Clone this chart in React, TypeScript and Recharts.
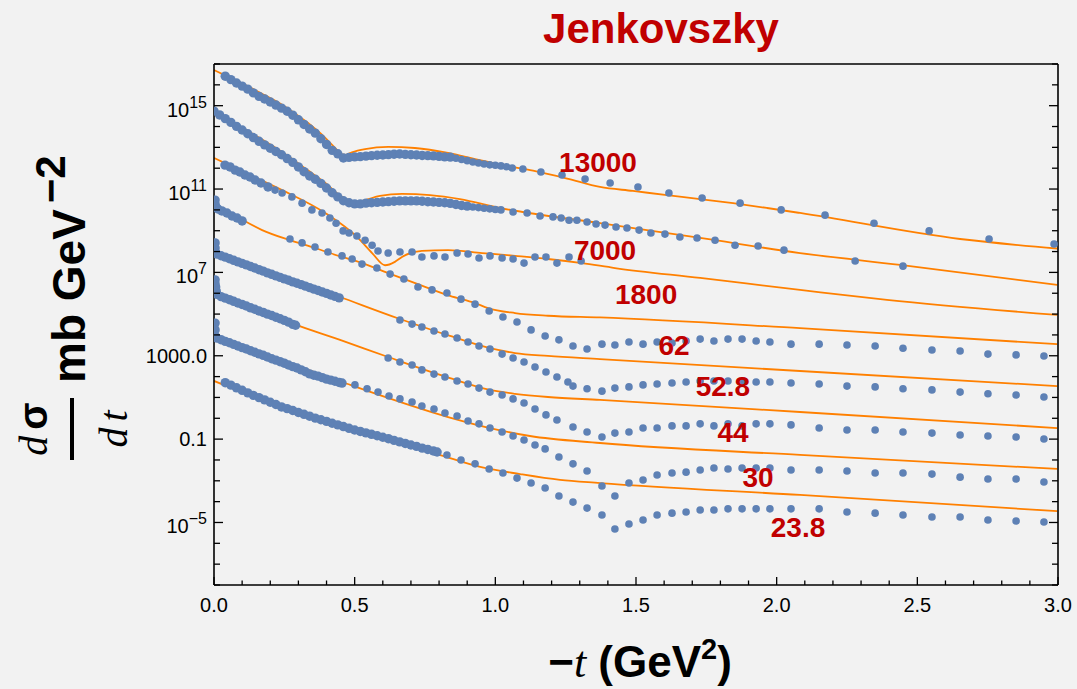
import React from 'react';
import { ComposedChart, Line, Scatter, XAxis, YAxis, ReferenceDot } from 'recharts';

// ---------- palette & fonts ----------
const BG = '#f2f2f2';
const BLUE = '#5e81b5';
const ORANGE = '#ff8000';
const RED = '#c00000';
const SANS = '"Liberation Sans", Arial, Helvetica, sans-serif';
const SERIF = '"Liberation Serif", "Times New Roman", serif';

// ---------- axes ----------
const xTicks = [0, 0.1, 0.2, 0.3, 0.4, 0.5, 0.6, 0.7, 0.8, 0.9, 1, 1.1, 1.2, 1.3, 1.4, 1.5, 1.6, 1.7, 1.8, 1.9, 2, 2.1, 2.2, 2.3, 2.4, 2.5, 2.6, 2.7, 2.8, 2.9, 3];
const xMajorTicks = [0, 0.5, 1, 1.5, 2, 2.5, 3];
const yTicks = [1e-8, 1e-7, 1e-6, 1e-5, 1e-4, 1e-3, 1e-2, 1e-1, 1, 1e1, 1e2, 1e3, 1e4, 1e5, 1e6, 1e7, 1e8, 1e9, 1e10, 1e11, 1e12, 1e13, 1e14, 1e15, 1e16, 1e17];
const yLabeledExponents = [15, 11, 7, 3, -1, -5];

// ---------- measured dσ/dt (scaled per energy), [−t, value] ----------
// finely binned low-|t| sets
const low13000: [number, number][] = [
  [0.04, 2.6e16], [0.06, 1.78e16], [0.08, 1.23e16], [0.10, 8.7e15], [0.12, 6.2e15], [0.14, 4.1e15], [0.16, 2.8e15],
  [0.18, 2.1e15], [0.20, 1.51e15], [0.22, 1.07e15], [0.24, 7.6e14], [0.26, 5.4e14], [0.28, 3.5e14], [0.30, 2.1e14],
  [0.32, 1.26e14], [0.34, 7.6e13], [0.36, 4.8e13], [0.38, 2.6e13], [0.40, 1.38e13], [0.42, 7.2e12], [0.44, 4.9e12],
  [0.46, 3.1e12], [0.48, 3.3e12], [0.50, 3.5e12], [0.52, 3.6e12], [0.54, 3.8e12], [0.56, 4.0e12], [0.58, 4.2e12],
  [0.60, 4.3e12], [0.62, 4.5e12], [0.64, 4.7e12], [0.66, 4.8e12], [0.68, 4.6e12], [0.70, 4.4e12], [0.72, 4.3e12],
  [0.74, 4.1e12], [0.76, 4.0e12], [0.78, 3.9e12], [0.80, 3.7e12], [0.82, 3.5e12], [0.84, 3.4e12],
];
const low7000: [number, number][] = [
  [0.00, 5.5e14], [0.02, 3.6e14], [0.04, 2.4e14], [0.06, 1.58e14], [0.08, 1.02e14], [0.10, 6.8e13], [0.12, 4.5e13],
  [0.14, 2.95e13], [0.16, 1.95e13], [0.18, 1.32e13], [0.20, 9.1e12], [0.22, 6.3e12], [0.24, 4.4e12], [0.26, 2.9e12],
  [0.28, 1.9e12], [0.30, 1.15e12], [0.32, 6.8e11], [0.34, 4.2e11], [0.36, 2.95e11], [0.38, 1.86e11], [0.40, 1.12e11],
  [0.42, 6.6e10], [0.44, 4.2e10], [0.46, 2.75e10], [0.48, 2.2e10], [0.50, 1.95e10], [0.52, 1.95e10], [0.54, 2.1e10],
  [0.56, 2.2e10], [0.58, 2.3e10], [0.60, 2.4e10], [0.62, 2.5e10], [0.64, 2.6e10], [0.66, 2.7e10], [0.68, 2.7e10],
  [0.70, 2.7e10], [0.72, 2.7e10], [0.74, 2.6e10], [0.76, 2.45e10], [0.78, 2.4e10], [0.80, 2.3e10], [0.82, 2.2e10],
  [0.84, 2.05e10], [0.86, 1.82e10], [0.88, 1.62e10], [0.90, 1.51e10],
];
const low1800: [number, number][] = [
  [0.039, 1.41e12], [0.057, 1.15e12], [0.075, 8.1e11], [0.092, 6.6e11], [0.11, 4.7e11], [0.128, 3.8e11], [0.146, 2.7e11],
  [0.167, 1.95e11], [0.192, 1.26e11],
];
const low62: [number, number][] = [
  [0.004, 2.95e10], [0.004, 1.9e10], [0.007, 1.38e10], [0.014, 1.1e10], [0.028, 8.9e9], [0.046, 7.1e9], [0.064, 5.1e9],
  [0.082, 4.1e9], [0.1, 2.95e9],
];
const low52_8: [number, number][] = [
  [0.004, 2.6e8], [0.004, 1.48e8], [0.007, 8.5e7], [0.01, 7.6e7], [0.025, 6.3e7], [0.04, 5.4e7], [0.055, 4.5e7],
  [0.07, 3.8e7], [0.085, 3.2e7], [0.1, 2.7e7], [0.115, 2.3e7], [0.13, 1.91e7], [0.145, 1.62e7], [0.16, 1.35e7],
  [0.175, 1.15e7], [0.19, 9.5e6], [0.205, 8.1e6], [0.22, 6.8e6], [0.235, 5.8e6], [0.25, 4.9e6], [0.265, 4.2e6],
  [0.28, 3.5e6], [0.295, 3.0e6], [0.31, 2.6e6], [0.325, 2.2e6], [0.34, 1.86e6], [0.355, 1.58e6], [0.37, 1.35e6],
  [0.385, 1.15e6], [0.4, 9.8e5], [0.415, 8.3e5], [0.43, 7.1e5], [0.445, 6.0e5],
];
const low44: [number, number][] = [
  [0.004, 4.4e6], [0.004, 2.8e6], [0.006, 2.0e6], [0.008, 1.26e6], [0.01, 8.9e5], [0.025, 6.9e5], [0.04, 5.8e5],
  [0.055, 4.9e5], [0.07, 4.1e5], [0.085, 3.4e5], [0.1, 2.9e5], [0.115, 2.45e5], [0.13, 2.0e5], [0.145, 1.7e5],
  [0.16, 1.41e5], [0.175, 1.2e5], [0.19, 1.0e5], [0.205, 8.5e4], [0.22, 7.1e4], [0.235, 6.0e4], [0.25, 5.0e4],
  [0.265, 4.1e4], [0.28, 3.2e4], [0.29, 2.9e4],
];
const low30: [number, number][] = [
  [0.004, 3.7e4], [0.004, 1.74e4], [0.007, 7.9e3], [0.01, 7.1e3], [0.025, 5.9e3], [0.04, 4.9e3], [0.055, 4.2e3],
  [0.07, 3.5e3], [0.085, 2.95e3], [0.1, 2.45e3], [0.115, 2.1e3], [0.13, 1.74e3], [0.145, 1.48e3], [0.16, 1.23e3],
  [0.175, 1.05e3], [0.19, 8.7e2], [0.205, 7.2e2], [0.22, 6.2e2], [0.235, 5.2e2], [0.25, 4.4e2], [0.265, 3.6e2],
  [0.28, 3.0e2], [0.295, 2.6e2], [0.31, 2.1e2], [0.325, 1.7e2], [0.34, 1.35e2], [0.355, 1.17e2], [0.37, 1.05e2],
  [0.385, 89], [0.4, 76], [0.415, 68], [0.43, 60], [0.445, 52], [0.455, 49],
];
const low23_8: [number, number][] = [
  [0.04, 51], [0.06, 39], [0.08, 29], [0.1, 22], [0.12, 16.6], [0.14, 12.6], [0.16, 9.8], [0.18, 7.6], [0.2, 5.9],
  [0.22, 4.6], [0.24, 3.5], [0.26, 2.9], [0.28, 2.35], [0.3, 1.9], [0.32, 1.55], [0.34, 1.26], [0.36, 1.02], [0.38, 0.85],
  [0.4, 0.71], [0.42, 0.575], [0.44, 0.48], [0.46, 0.4], [0.48, 0.33], [0.5, 0.275], [0.52, 0.234], [0.54, 0.2],
  [0.56, 0.17], [0.58, 0.145], [0.6, 0.123], [0.62, 0.105], [0.64, 0.087], [0.66, 0.074], [0.68, 0.062], [0.7, 0.052],
  [0.72, 0.045], [0.74, 0.037], [0.76, 0.032], [0.78, 0.027], [0.793, 0.024],
];

// coarser sets reaching the dip and beyond
const high13000: [number, number][] = [
  [0.86, 3.0e12], [0.88, 2.6e12], [0.90, 2.3e12], [0.92, 2.0e12], [0.94, 1.78e12], [0.96, 1.58e12], [0.98, 1.45e12],
  [1.00, 1.38e12], [1.02, 1.29e12], [1.04, 1.17e12], [1.06, 1.02e12], [1.098, 9.1e11], [1.162, 6.6e11], [1.237, 4.7e11],
  [1.319, 3.0e11], [1.408, 1.95e11], [1.507, 1.26e11], [1.617, 6.5e10], [1.735, 3.7e10], [1.87, 2.1e10], [2.016, 1.0e10],
  [2.172, 5.6e9], [2.346, 2.3e9], [2.542, 9.8e8], [2.755, 4.0e8], [2.986, 2.3e8],
];
const high7000: [number, number][] = [
  [0.92, 1.38e10], [0.94, 1.29e10], [0.96, 1.2e10], [0.98, 1.12e10], [1.00, 1.05e10], [1.02, 1.0e10], [1.063, 7.9e9],
  [1.113, 7.1e9], [1.159, 5.1e9], [1.205, 4.6e9], [1.234, 4.1e9], [1.262, 3.2e9], [1.29, 3.2e9], [1.326, 2.6e9],
  [1.358, 2.1e9], [1.39, 1.86e9], [1.429, 1.51e9], [1.468, 1.35e9], [1.511, 1.07e9], [1.553, 7.8e8], [1.603, 6.9e8],
  [1.656, 5.0e8], [1.717, 4.5e8], [1.781, 3.5e8], [1.852, 2.0e8], [1.934, 1.86e8], [2.026, 1.17e8], [2.279, 3.5e7],
  [2.449, 2.0e7],
];
const high1800: [number, number][] = [
  [0.217, 8.9e10], [0.242, 6.5e10], [0.277, 4.2e10], [0.313, 2.1e10], [0.348, 1.0e10], [0.384, 7.1e9], [0.412, 4.1e9],
  [0.434, 2.3e9], [0.459, 9.8e8], [0.48, 7.8e8], [0.508, 5.6e8], [0.537, 3.5e8], [0.562, 2.0e8], [0.583, 1.07e8],
  [0.619, 8.5e7], [0.661, 9.5e7], [0.704, 9.5e7], [0.739, 5.5e7], [0.782, 6.2e7], [0.821, 5.5e7], [0.864, 8.5e7],
  [0.903, 7.6e7], [0.942, 4.9e7], [0.981, 6.2e7], [1.024, 4.9e7], [1.063, 4.4e7], [1.102, 2.8e7], [1.141, 5.5e7],
  [1.18, 5.5e7], [1.219, 2.8e7], [1.262, 5.5e7], [1.305, 3.5e7],
];
const high62: [number, number][] = [
  [0.27, 4.0e8], [0.313, 2.6e8], [0.359, 1.66e8], [0.405, 9.5e7], [0.455, 6.2e7], [0.491, 4.4e7], [0.526, 2.5e7],
  [0.579, 1.62e7], [0.626, 8.3e6], [0.675, 4.8e6], [0.725, 2.0e6], [0.775, 1.45e6], [0.828, 1.02e6], [0.878, 5.2e5],
  [0.928, 3.0e5], [0.978, 1.41e5], [1.027, 7.2e4], [1.077, 4.2e4], [1.127, 1.74e4], [1.177, 8.9e3], [1.226, 5.8e3],
  [1.276, 2.95e3], [1.326, 2.1e3], [1.379, 3.6e3], [1.425, 3.3e3], [1.475, 4.6e3], [1.525, 3.6e3], [1.575, 4.6e3],
  [1.628, 4.1e3], [1.678, 5.1e3], [1.728, 6.3e3], [1.777, 5.1e3], [1.827, 6.3e3], [1.877, 6.3e3], [1.927, 5.1e3],
  [1.976, 4.6e3], [2.051, 3.6e3], [2.151, 3.6e3], [2.25, 3.3e3], [2.35, 2.95e3], [2.449, 2.3e3], [2.552, 1.9e3],
  [2.652, 1.7e3], [2.751, 1.2e3], [2.851, 1.1e3], [2.95, 9.8e2],
];
const high52_8: [number, number][] = [
  [0.661, 5.2e4], [0.704, 3.3e4], [0.739, 2.4e4], [0.782, 1.55e4], [0.821, 1.1e4], [0.864, 7.1e3], [0.903, 4.6e3],
  [0.942, 2.95e3], [0.981, 2.1e3], [1.024, 1.2e3], [1.063, 7.8e2], [1.102, 5.0e2], [1.141, 2.9e2], [1.18, 1.66e2],
  [1.219, 95], [1.258, 55], [1.276, 35], [1.326, 26], [1.379, 20], [1.425, 28], [1.475, 32], [1.525, 40], [1.575, 44],
  [1.628, 49], [1.678, 55], [1.728, 62], [1.777, 62], [1.827, 62], [1.877, 55], [1.927, 55], [1.976, 55], [2.051, 49],
  [2.151, 44], [2.25, 35], [2.35, 32], [2.449, 26], [2.552, 23], [2.652, 18], [2.751, 15], [2.851, 13], [2.95, 10.5],
];
const high44: [number, number][] = [
  [0.619, 7.8e2], [0.661, 5.0e2], [0.704, 3.6e2], [0.739, 2.1e2], [0.782, 1.32e2], [0.821, 95], [0.864, 62], [0.903, 44],
  [0.942, 28], [0.981, 18], [1.024, 13], [1.063, 8.5], [1.102, 5.4], [1.141, 2.8], [1.18, 1.45], [1.219, 0.83],
  [1.276, 0.38], [1.326, 0.22], [1.379, 0.126], [1.425, 0.195], [1.475, 0.22], [1.525, 0.34], [1.575, 0.34],
  [1.628, 0.43], [1.678, 0.43], [1.728, 0.54], [1.777, 0.43], [1.827, 0.54], [1.877, 0.43], [1.927, 0.54], [1.976, 0.54],
  [2.051, 0.48], [2.151, 0.34], [2.25, 0.275], [2.35, 0.275], [2.449, 0.22], [2.552, 0.195], [2.652, 0.158],
  [2.751, 0.141], [2.851, 0.126], [2.95, 0.102],
];
const high30: [number, number][] = [
  [0.501, 40], [0.544, 26], [0.583, 18], [0.622, 11.7], [0.661, 8.5], [0.704, 6.0], [0.739, 3.9], [0.782, 2.8],
  [0.821, 1.78], [0.864, 1.29], [0.903, 0.74], [0.942, 0.54], [0.981, 0.34], [1.024, 0.22], [1.063, 0.141], [1.102, 0.091],
  [1.141, 0.052], [1.177, 0.034], [1.226, 0.0138], [1.276, 6.5e-3], [1.326, 2.95e-3], [1.379, 5.6e-4], [1.425, 1.86e-4],
  [1.475, 7.8e-4], [1.525, 1.1e-3], [1.575, 1.9e-3], [1.628, 2.35e-3], [1.678, 2.6e-3], [1.728, 3.3e-3], [1.777, 4.1e-3],
  [1.827, 3.7e-3], [1.877, 4.1e-3], [1.927, 4.1e-3], [1.976, 4.1e-3], [2.051, 3.3e-3], [2.151, 3.3e-3], [2.25, 2.95e-3],
  [2.35, 2.35e-3], [2.449, 2.35e-3], [2.552, 2.1e-3], [2.652, 1.5e-3], [2.751, 1.23e-3], [2.851, 1.23e-3], [2.95, 8.7e-4],
];
const high23_8: [number, number][] = [
  [0.828, 0.0174], [0.878, 0.01], [0.928, 6.5e-3], [0.978, 3.7e-3], [1.027, 2.35e-3], [1.077, 1.35e-3], [1.127, 7.8e-4],
  [1.177, 4.5e-4], [1.226, 1.86e-4], [1.276, 9.5e-5], [1.326, 4.9e-5], [1.379, 2.3e-5], [1.425, 4.9e-6], [1.475, 8.5e-6],
  [1.525, 1.32e-5], [1.575, 2.3e-5], [1.628, 2.8e-5], [1.678, 3.2e-5], [1.728, 4.0e-5], [1.777, 4.0e-5], [1.827, 4.5e-5],
  [1.877, 4.5e-5], [1.927, 4.5e-5], [1.976, 4.5e-5], [2.051, 4.5e-5], [2.151, 4.5e-5], [2.25, 3.2e-5], [2.35, 2.8e-5],
  [2.449, 2.3e-5], [2.552, 1.82e-5], [2.652, 1.82e-5], [2.751, 1.32e-5], [2.851, 1.17e-5], [2.95, 1.05e-5],
];

// ---------- model curves, [−t, value] ----------
const model13000: [number, number][] = [
  [0, 5.1e16], [0.06, 2.1e16], [0.121, 8.5e15], [0.18, 3.2e15], [0.242, 1.1e15], [0.3, 3.2e14], [0.341, 1.26e14],
  [0.38, 4.5e13], [0.405, 2.1e13], [0.425, 1.12e13], [0.441, 6.6e12], [0.455, 4.6e12], [0.468, 4.4e12], [0.49, 5.8e12],
  [0.537, 8.3e12], [0.619, 1.05e13], [0.714, 9.3e12], [0.832, 5.4e12], [0.928, 2.75e12], [1.024, 1.41e12],
  [1.134, 7.6e11], [1.255, 3.2e11], [1.372, 1.26e11], [1.489, 8.1e10], [1.61, 5.1e10], [1.728, 3.3e10], [1.845, 2.1e10],
  [1.966, 1.23e10], [2.083, 7.1e9], [2.652, 4.0e8], [2.997, 1.4e8],
];
const model7000: [number, number][] = [
  [0, 5.6e14], [0.121, 6.0e13], [0.242, 6.0e12], [0.334, 7.9e11], [0.395, 2.0e11], [0.455, 4.2e10], [0.49, 2.6e10],
  [0.508, 2.4e10], [0.537, 2.95e10], [0.59, 4.7e10], [0.668, 5.8e10], [0.768, 5.1e10], [0.874, 3.3e10], [1.017, 1.23e10],
  [1.372, 2.3e9], [1.728, 4.5e8], [2.083, 8.5e7], [2.439, 2.3e7], [2.997, 2.5e6],
];
const model1800: [number, number][] = [
  [0, 3.1e12], [0.121, 5.2e11], [0.242, 8.9e10], [0.395, 7.1e9], [0.512, 4.5e8], [0.562, 8.5e7], [0.608, 2.2e7],
  [0.643, 3.2e7], [0.668, 5.5e7], [0.739, 1.07e8], [0.832, 1.17e8], [0.953, 8.5e7], [1.07, 6.2e7], [1.187, 4.4e7],
  [1.308, 2.8e7], [1.425, 1.62e7], [1.728, 5.4e6], [2.083, 1.45e6], [2.392, 4.8e5], [2.997, 9.1e4],
];
const model62: [number, number][] = [
  [0, 1.7e10], [0.103, 3.2e9], [0.171, 1.07e9], [0.27, 3.5e8], [0.359, 1.48e8], [0.455, 5.5e7], [0.526, 2.8e7],
  [0.619, 9.3e6], [0.732, 2.5e6], [0.839, 7.4e5], [0.928, 3.4e5], [0.974, 1.95e5], [1.07, 1.12e5], [1.187, 8.3e4],
  [1.372, 6.9e4], [2.083, 2.1e4], [2.997, 3.6e3],
];
const model52_8: [number, number][] = [
  [0, 1.07e8], [0.242, 6.8e6], [0.448, 6.6e5], [0.661, 5.8e4], [0.839, 8.9e3], [0.981, 2.3e3], [1.07, 1.35e3],
  [1.187, 9.8e2], [1.372, 6.9e2], [2.083, 1.86e2], [2.997, 35],
];
const model44: [number, number][] = [
  [0, 1.15e6], [0.284, 3.3e4], [0.448, 5.8e3], [0.619, 8.7e2], [0.839, 85], [0.981, 23], [1.07, 15], [1.187, 10.5],
  [1.372, 7.6], [2.083, 2.0], [2.997, 0.34],
];
const model30: [number, number][] = [
  [0, 1.1e4], [0.455, 55], [0.832, 1.15], [0.981, 0.34], [1.123, 0.141], [1.372, 0.065], [2.083, 0.0174], [2.997, 3.7e-3],
];
const model23_8: [number, number][] = [
  [0, 62], [0.121, 13.5], [0.242, 2.8], [0.359, 0.79], [0.476, 0.26], [0.597, 0.095], [0.714, 0.038], [0.793, 0.019],
  [0.946, 4.6e-3], [1.088, 2.1e-3], [1.23, 1.1e-3], [1.372, 7.8e-4], [2.083, 2.1e-4], [2.997, 3.5e-5],
];

// ---------- energy tags (√s in GeV) and where they sit ----------
const energyNames = ['13000', '7000', '1800', '62', '52.8', '44', '30', '23.8'];
const energyTagAt: [number, number][] = [
  [1.365, 2.0e12], [1.39, 1.17e8], [1.536, 9.1e5], [1.635, 3.3e3], [1.809, 35], [1.845, 0.22], [1.934, 1.5e-3], [2.076, 6.0e-6],
];
const lowSets = [low13000, low7000, low1800, low62, low52_8, low44, low30, low23_8];
const highSets = [high13000, high7000, high1800, high62, high52_8, high44, high30, high23_8];
const models = [model13000, model7000, model1800, model62, model52_8, model44, model30, model23_8];

const rows = (pairs: [number, number][]) => pairs.map(([t, v]) => ({ t, v }));

// ---------- frame ticks (inward, Mathematica style) ----------
const TICK_FONT = 20;

function expOf(v: number) {
  return Math.round(Math.log10(v));
}

function yLabel(exp: number, x: number, y: number) {
  const common = { x, textAnchor: 'end' as const, fontFamily: SANS, fontSize: TICK_FONT, fill: '#000' };
  if (exp === 3) return <text {...common} y={y + 7}>1000.0</text>;
  if (exp === -1) return <text {...common} y={y + 7}>0.1</text>;
  const sup = exp < 0 ? `\u2212${-exp}` : `${exp}`;
  return (
    <text {...common} y={y + 11}>
      <tspan>10</tspan>
      <tspan dy={-9} fontSize={16}>{sup}</tspan>
    </text>
  );
}

const LeftTick = (p: any) => {
  const exp = expOf(p.payload.value);
  const major = yLabeledExponents.includes(exp);
  return (
    <g>
      <line x1={p.x} x2={p.x + (major ? 9 : 6)} y1={p.y} y2={p.y} stroke="#000" strokeWidth={1.3} />
      {major && yLabel(exp, p.x - 7, p.y)}
    </g>
  );
};
const RightTick = (p: any) => {
  const major = yLabeledExponents.includes(expOf(p.payload.value));
  return <line x1={p.x} x2={p.x - (major ? 9 : 6)} y1={p.y} y2={p.y} stroke="#000" strokeWidth={1.3} />;
};
const isMajorX = (v: number) => xMajorTicks.some((m) => Math.abs(m - v) < 1e-6);
const BottomTick = (p: any) => {
  const major = isMajorX(p.payload.value);
  return (
    <g>
      <line x1={p.x} x2={p.x} y1={p.y} y2={p.y - (major ? 8 : 4.5)} stroke="#000" strokeWidth={1.3} />
      {major && (
        <text x={p.x} y={p.y + 27} textAnchor="middle" fontFamily={SANS} fontSize={TICK_FONT} fill="#000">
          {Number(p.payload.value).toFixed(1)}
        </text>
      )}
    </g>
  );
};
const TopTick = (p: any) => {
  const major = isMajorX(p.payload.value);
  return <line x1={p.x} x2={p.x} y1={p.y} y2={p.y + (major ? 8 : 4.5)} stroke="#000" strokeWidth={1.3} />;
};

const axisLine = { stroke: '#000', strokeWidth: 1.6 };

const FineDot = (p: any) => <circle cx={p.cx} cy={p.cy} r={4.7} fill={BLUE} />;
const CoarseDot = (p: any) => <circle cx={p.cx} cy={p.cy} r={3.8} fill={BLUE} />;

export default function App() {
  return (
    <div style={{ position: 'absolute', left: 0, top: 0, width: 1077, height: 689, background: BG, overflow: 'hidden' }}>
      <ComposedChart width={1077} height={689} margin={{ top: 63, right: 18, bottom: 64, left: 144 }}>
        <XAxis
          dataKey="t" type="number" domain={[0, 3]} ticks={xTicks} interval={0} height={40}
          tickSize={0} tickMargin={0} tickLine={false} axisLine={axisLine} tick={(p: any) => <BottomTick {...p} />}
          allowDataOverflow
        />
        <XAxis
          xAxisId="top" orientation="top" type="number" domain={[0, 3]} ticks={xTicks} interval={0} height={1}
          tickSize={0} tickMargin={0} tickLine={false} axisLine={axisLine} tick={(p: any) => <TopTick {...p} />}
          allowDataOverflow
        />
        <YAxis
          dataKey="v" scale="log" domain={[1e-8, 1e17]} ticks={yTicks} interval={0} width={70}
          tickSize={0} tickMargin={0} tickLine={false} axisLine={axisLine} tick={(p: any) => <LeftTick {...p} />}
          allowDataOverflow
        />
        <YAxis
          yAxisId="right" orientation="right" scale="log" domain={[1e-8, 1e17]} ticks={yTicks} interval={0} width={1}
          tickSize={0} tickMargin={0} tickLine={false} axisLine={axisLine} tick={(p: any) => <RightTick {...p} />}
          allowDataOverflow
        />

        {models.map((m, i) => (
          <Line
            key={`model-${energyNames[i]}`}
            data={rows(m)}
            dataKey="v"
            type="monotone"
            stroke={ORANGE}
            strokeWidth={1.8}
            dot={false}
            activeDot={false}
            isAnimationActive={false}
          />
        ))}
        {lowSets.map((d, i) => (
          <Scatter key={`low-${energyNames[i]}`} data={rows(d)} dataKey="v" shape={FineDot} isAnimationActive={false} />
        ))}
        {highSets.map((d, i) => (
          <Scatter key={`high-${energyNames[i]}`} data={rows(d)} dataKey="v" shape={CoarseDot} isAnimationActive={false} />
        ))}
        {energyNames.map((name, i) => (
          <ReferenceDot
            key={`tag-${name}`}
            x={energyTagAt[i][0]}
            y={energyTagAt[i][1]}
            r={0}
            ifOverflow="visible"
            shape={(p: any) => (
              <text x={p.cx} y={p.cy + 10} textAnchor="middle" fontFamily={SANS} fontWeight="bold" fontSize={28} fill={RED}>
                {name}
              </text>
            )}
          />
        ))}
      </ComposedChart>

      <svg width={1077} height={689} style={{ position: 'absolute', left: 0, top: 0, pointerEvents: 'none' }}>
        <text x={661} y={43} textAnchor="middle" fontFamily={SANS} fontWeight="bold" fontSize={42} fill={RED}>
          Jenkovszky
        </text>

        <text x={640} y={677} textAnchor="middle" fontFamily={SANS} fontWeight="bold" fontSize={44} fill="#000">
          <tspan>{'\u2212'}</tspan>
          <tspan fontFamily={SERIF} fontStyle="italic" fontWeight="normal">t</tspan>
          <tspan> (GeV</tspan>
          <tspan fontSize={29} dy={-18}>2</tspan>
          <tspan dy={18}>)</tspan>
        </text>

        <g transform="translate(85, 383) rotate(-90)">
          <text x={0} y={0} fontFamily={SANS} fontWeight="bold" fontSize={46} fill="#000">
            <tspan>mb GeV</tspan>
            <tspan fontSize={42} dy={-20} dx={6}>{'\u22122'}</tspan>
          </text>
          <text x={-46} y={-38} textAnchor="middle" fontSize={40} fill="#000">
            <tspan fontFamily={SERIF} fontStyle="italic">d</tspan>
            <tspan fontFamily={SANS} fontWeight="bold" dx={6}>{'\u03c3'}</tspan>
          </text>
          <rect x={-77} y={-15} width={62} height={4} fill="#000" />
          <text x={-46} y={42} textAnchor="middle" fontSize={40} fill="#000" fontFamily={SERIF} fontStyle="italic">
            <tspan>d</tspan>
            <tspan dx={6}>t</tspan>
          </text>
        </g>
      </svg>
    </div>
  );
}
